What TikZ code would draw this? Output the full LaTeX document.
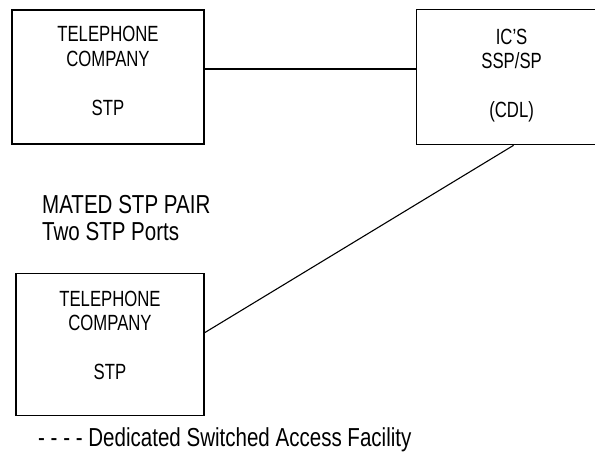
\documentclass[tikz,border=0pt]{standalone}
\usepackage{fontspec}
\setmainfont[FakeStretch=0.79]{Liberation Sans}
\newfontfamily\boxfont[FakeStretch=0.76]{Liberation Sans}
\usetikzlibrary{positioning}

\begin{document}
\begin{tikzpicture}[x=1pt, y=1pt, auto,
    stpbox/.style={rectangle, draw, line width=1.6pt, align=center, inner sep=0pt,
      font=\boxfont\fontsize{22}{24.5}\selectfont},
    link/.style={line width=1.1pt}]
        \useasboundingbox (0,0) rectangle (595,464);
        \node (tco1) [stpbox, minimum width=192pt, minimum height=134pt, text depth=12pt] at (108,387) {TELEPHONE\\COMPANY\\[24.5pt]STP};
        \node (icssp) [stpbox, right=211pt of tco1, minimum width=190pt, minimum height=135pt, text depth=7pt] {IC’S\\SSP/SP\\[24.5pt](CDL)};
        \node (tco2) [stpbox, below=128pt of tco1, xshift=2pt, minimum width=188pt, minimum height=142pt, text depth=19pt] {TELEPHONE\\COMPANY\\[24.5pt]STP};
        \node (mated) [anchor=north west, inner sep=0pt, align=left, font=\fontsize{26}{27}\selectfont] at (42,269) {MATED STP PAIR\\Two STP Ports};
        \node (legend) [anchor=base west, inner sep=0pt, font=\fontsize{26}{27}\selectfont] at (38,18) {- - - - Dedicated Switched Access Facility};

        \draw [link] ([yshift=8pt]tco1.east) -- ([yshift=8pt]tco1.east -| icssp.west);
        \draw [link] ([yshift=12pt]tco2.east) -- ([xshift=2pt]icssp.south);
    \end{tikzpicture}
\end{document}
